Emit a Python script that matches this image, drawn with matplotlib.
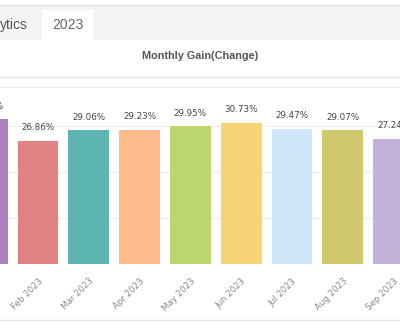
import matplotlib.pyplot as plt
from matplotlib.patches import Rectangle
from matplotlib.lines import Line2D

months = ["Jan 2023", "Feb 2023", "Mar 2023", "Apr 2023", "May 2023",
          "Jun 2023", "Jul 2023", "Aug 2023", "Sep 2023"]
gains = [31.45, 26.86, 29.06, 29.23, 29.95, 30.73, 29.47, 29.07, 27.24]
colors = ["#b07fc0", "#e08282", "#5db5b1", "#ffba8c", "#bcd56e",
          "#f6d476", "#cfe6f8", "#cfc86c", "#c3b1da"]

W, H = 400, 329


def fx(x):
    return x / W


def fy(y):
    return 1 - y / H


fig = plt.figure(figsize=(W / 100, H / 100), dpi=100)
fig.patch.set_facecolor("white")

# tab bar
fig.patches.append(Rectangle((0, fy(40)), 1, fy(5) - fy(40), transform=fig.transFigure,
                             facecolor="#f4f4f4", edgecolor="none"))
fig.patches.append(Rectangle((fx(42), fy(40)), fx(93) - fx(42), fy(10) - fy(40),
                             transform=fig.transFigure, facecolor="white", edgecolor="none"))
fig.lines.append(Line2D([0, 1], [fy(5), fy(5)], transform=fig.transFigure, color="#e2e2e2", lw=1))
fig.text(fx(14), fy(25), "ytics", ha="center", va="center", fontsize=10,
         color="#555555", family="Liberation Sans")
fig.text(fx(68), fy(25), "2023", ha="center", va="center", fontsize=10,
         color="#666666", family="Liberation Sans")

# chart title
fig.text(fx(200), fy(56), "Monthly Gain(Change)", ha="center", va="center", fontsize=7.8,
         fontweight="bold", color="#555555", family="Liberation Sans")
fig.lines.append(Line2D([0, 1], [fy(77), fy(77)], transform=fig.transFigure, color="#e6e6e6", lw=1))
fig.lines.append(Line2D([0, 1], [fy(320), fy(320)], transform=fig.transFigure, color="#e6e6e6", lw=1))

# bar chart
ax = fig.add_axes([0, fy(264), 1, fy(87) - fy(264)])
x = list(range(len(months)))
ax.bar(x, gains, width=0.8, color=colors, zorder=2)
for xi, g in zip(x, gains):
    ax.annotate(f"{g:.2f}%", (xi, g), xytext=(0, 6), textcoords="offset points",
                ha="center", va="bottom", fontsize=6.3, color="#444444",
                annotation_clip=False)

ax.set_yticks([10, 20, 30])
ax.yaxis.grid(True, color="#ececec", lw=0.8, zorder=0)
ax.tick_params(axis="y", left=False, labelleft=False)
ax.set_xticks(x)
ax.set_xticklabels(months, rotation=45, ha="right", rotation_mode="anchor",
                   fontsize=6.2, color="#888888")
ax.tick_params(axis="x", length=0, pad=9)

# first bar is cut by the left edge, as in the screenshot
pitch = 50.8
x0 = -12.8  # pixel of Jan centre
ax.set_xlim((0 - x0) / pitch, (W - x0) / pitch)
ax.set_ylim(0, 38.5)

for s in ["left", "right", "bottom"]:
    ax.spines[s].set_visible(False)
ax.spines["top"].set_color("#ececec")
ax.set_facecolor("none")

fig.savefig("out.png", dpi=100)
